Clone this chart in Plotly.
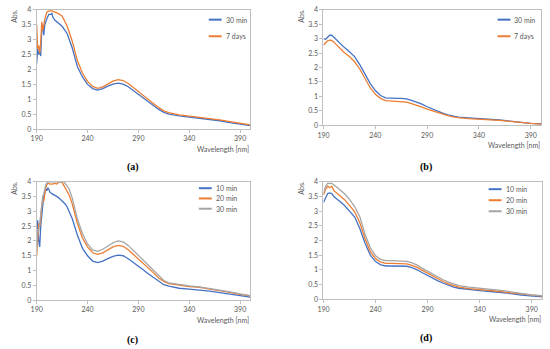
import plotly.graph_objects as go

# ---------------- data ----------------
wl_a = [190,191,192,193,194,195,196,197,198,199,200,202,204,205,206,208,210,215,220,225,230,235,240,245,250,255,260,265,270,275,280,285,290,295,300,305,310,315,320,330,340,350,360,370,380,390,400]
a_30min = [2.2,2.7,2.5,2.6,2.45,3.3,3.5,3.15,3.5,3.65,3.7,3.85,3.85,3.88,3.75,3.65,3.6,3.45,3.2,2.72,2.1,1.75,1.5,1.36,1.31,1.36,1.44,1.51,1.54,1.51,1.42,1.29,1.16,1.04,0.91,0.79,0.66,0.56,0.5,0.44,0.4,0.37,0.33,0.28,0.22,0.16,0.12]
a_7days = [3.5,2.7,2.8,2.55,2.9,3.6,3.3,3.55,3.7,3.8,3.92,3.97,3.98,3.97,3.95,3.93,3.9,3.8,3.45,2.95,2.3,1.88,1.6,1.43,1.37,1.42,1.52,1.61,1.66,1.63,1.53,1.39,1.25,1.12,0.98,0.85,0.72,0.61,0.55,0.48,0.44,0.41,0.36,0.31,0.25,0.19,0.14]

wl_b = [190,192,194,196,198,200,205,210,215,220,225,230,235,240,245,250,255,260,265,270,275,280,285,290,295,300,305,310,315,320,330,340,350,360,370,380,390,400]
b_30min = [3.0,2.98,3.05,3.12,3.12,3.05,2.85,2.7,2.55,2.38,2.1,1.75,1.45,1.2,1.03,0.95,0.93,0.93,0.93,0.91,0.86,0.8,0.73,0.64,0.56,0.49,0.42,0.36,0.31,0.28,0.25,0.23,0.21,0.18,0.14,0.09,0.06,0.05]
b_7days = [2.78,2.85,2.93,2.95,2.94,2.88,2.7,2.52,2.38,2.2,1.95,1.6,1.3,1.07,0.93,0.85,0.84,0.84,0.83,0.8,0.75,0.7,0.63,0.56,0.5,0.44,0.38,0.33,0.29,0.26,0.23,0.21,0.2,0.17,0.13,0.09,0.06,0.04]

wl_c = [190,191,192,193,194,195,196,197,198,199,200,201,202,203,205,208,210,212,215,217,218,220,222,225,230,235,240,245,250,255,260,265,270,275,280,285,290,295,300,305,310,315,320,330,340,350,360,370,380,390,400]
c_10min = [2.0,2.7,2.0,1.8,2.5,3.0,3.2,3.5,3.6,3.75,3.7,3.8,3.75,3.65,3.6,3.55,3.5,3.45,3.35,3.3,3.25,3.15,3.0,2.75,2.2,1.75,1.5,1.32,1.27,1.32,1.4,1.48,1.52,1.5,1.4,1.28,1.15,1.02,0.88,0.75,0.62,0.52,0.47,0.4,0.37,0.34,0.3,0.25,0.2,0.15,0.1]
c_20min = [1.5,2.0,2.6,2.5,2.7,3.2,3.4,3.35,3.7,3.8,3.9,3.95,3.95,3.92,3.92,3.95,3.93,4.0,3.98,3.85,3.8,3.7,3.55,3.25,2.6,2.1,1.8,1.6,1.55,1.6,1.7,1.8,1.85,1.82,1.7,1.55,1.4,1.25,1.08,0.92,0.75,0.63,0.56,0.5,0.46,0.43,0.38,0.32,0.26,0.19,0.14]
c_30min = [1.7,2.4,2.3,2.6,2.8,3.3,3.5,3.6,3.8,3.9,3.95,4.0,4.0,4.0,4.0,4.0,4.0,4.0,4.0,4.0,3.95,3.85,3.75,3.45,2.75,2.25,1.9,1.7,1.65,1.72,1.83,1.94,2.0,1.97,1.85,1.68,1.5,1.33,1.15,0.97,0.8,0.66,0.58,0.52,0.48,0.45,0.4,0.34,0.28,0.21,0.15]

wl_d = [190,192,194,196,198,200,205,210,215,220,225,230,235,240,245,250,255,260,265,270,275,280,285,290,295,300,305,310,315,320,330,340,350,360,370,380,390,400]
d_10min = [3.3,3.45,3.6,3.62,3.6,3.5,3.35,3.2,3.0,2.8,2.4,1.9,1.5,1.28,1.17,1.13,1.13,1.13,1.13,1.12,1.07,1.0,0.9,0.8,0.71,0.62,0.54,0.47,0.41,0.37,0.32,0.29,0.26,0.23,0.19,0.14,0.1,0.08]
d_20min = [3.55,3.75,3.85,3.8,3.85,3.7,3.55,3.4,3.2,2.98,2.6,2.05,1.62,1.38,1.26,1.22,1.22,1.22,1.22,1.2,1.15,1.08,0.98,0.88,0.78,0.69,0.6,0.52,0.46,0.41,0.36,0.33,0.3,0.26,0.21,0.17,0.12,0.1]
d_30min = [3.6,3.85,3.95,3.95,3.95,3.9,3.75,3.6,3.4,3.15,2.8,2.2,1.75,1.48,1.35,1.31,1.31,1.31,1.31,1.29,1.24,1.16,1.05,0.95,0.85,0.75,0.66,0.58,0.51,0.46,0.41,0.38,0.35,0.3,0.25,0.2,0.14,0.12]

x_ticks = [190, 240, 290, 340, 390]
y_ticks = [0, 0.5, 1, 1.5, 2, 2.5, 3, 3.5, 4]
y_ticklabels = ["0", "0.5", "1", "1.5", "2", "2.5", "3", "3.5", "4"]

BLUE = "#4472C4"
ORANGE = "#ED7D31"
GRAY = "#A5A5A5"
W, H = 550, 349
FONT = "Lato"

# panel geometry in pixels: left, right, top, bottom
panels = {
    "a": dict(px=(31, 247), py=(5, 127), xa="x", ya="y"),
    "b": dict(px=(321, 541), py=(5, 123), xa="x2", ya="y2"),
    "c": dict(px=(31, 247), py=(181, 302), xa="x3", ya="y3"),
    "d": dict(px=(321, 542), py=(181, 301), xa="x4", ya="y4"),
}

series = {
    "a": (wl_a, [("30 min", a_30min, BLUE), ("7 days", a_7days, ORANGE)]),
    "b": (wl_b, [("30 min", b_30min, BLUE), ("7 days", b_7days, ORANGE)]),
    "c": (wl_c, [("10 min", c_10min, BLUE), ("20 min", c_20min, ORANGE), ("30 min", c_30min, GRAY)]),
    "d": (wl_d, [("10 min", d_10min, BLUE), ("20 min", d_20min, ORANGE), ("30 min", d_30min, GRAY)]),
}

# legend positions (pixel): line start x, first row y, row spacing
legend_pos = {
    "a": (205, 15, 17),
    "b": (497, 15, 17),
    "c": (195, 187.5, 10.5),
    "d": (488, 188.5, 11.3),
}
label_pos = {"a": (128, 166), "b": (425, 166), "c": (128, 343), "d": (425, 341)}

fig = go.Figure()
layout = dict(
    width=W, height=H, margin=dict(l=0, r=0, t=0, b=0),
    paper_bgcolor="white", plot_bgcolor="white", showlegend=False,
    font=dict(family=FONT, size=7, color="#595959"),
)
shapes, annos = [], []

def fx(p):
    return p / W

def fy(p):
    return 1 - p / H

for i, key in enumerate(["a", "b", "c", "d"]):
    P = panels[key]
    suffix = "" if i == 0 else str(i + 1)
    xd = [fx(P["px"][0]), fx(P["px"][1])]
    yd = [fy(P["py"][1]), fy(P["py"][0])]
    layout["xaxis" + suffix] = dict(
        domain=xd, range=[190, 400], tickvals=x_ticks, showgrid=False, zeroline=False,
        showline=True, mirror=True, linecolor="#BFBFBF", linewidth=1,
        ticks="outside", ticklen=3, tickcolor="#BFBFBF",
        tickfont=dict(size=7, color="#595959", family=FONT),
        anchor="y" + suffix, fixedrange=True,
    )
    layout["yaxis" + suffix] = dict(
        domain=yd, range=[0, 4], tickvals=y_ticks, ticktext=y_ticklabels, showgrid=False, zeroline=False,
        showline=True, mirror=True, linecolor="#BFBFBF", linewidth=1,
        ticks="outside", ticklen=3, tickcolor="#BFBFBF",
        tickfont=dict(size=7, color="#595959", family=FONT),
        anchor="x" + suffix, fixedrange=True,
    )
    wl, ser = series[key]
    for name, vals, col in ser:
        fig.add_trace(go.Scatter(x=wl, y=vals, mode="lines", name=name,
                                 line=dict(color=col, width=1.3),
                                 xaxis=P["xa"], yaxis=P["ya"]))
    # legend
    lx, ly, dy = legend_pos[key]
    for j, (name, vals, col) in enumerate(ser):
        yy = ly + j * dy
        shapes.append(dict(type="line", xref="paper", yref="paper",
                           x0=fx(lx), x1=fx(lx + 13), y0=fy(yy), y1=fy(yy),
                           line=dict(color=col, width=2)))
        annos.append(dict(xref="paper", yref="paper", x=fx(lx + 15), y=fy(yy),
                          text=name, showarrow=False, xanchor="left", yanchor="middle",
                          font=dict(size=7, color="#595959", family=FONT)))
    # Abs. label
    annos.append(dict(xref="paper", yref="paper", x=fx(P["px"][0] - 23), y=fy(P["py"][0] - 3),
                      text="Abs.", textangle=-90, showarrow=False,
                      xanchor="center", yanchor="top",
                      font=dict(size=7, color="#595959", family=FONT)))
    # Wavelength label
    annos.append(dict(xref="paper", yref="paper", x=fx(P["px"][1] + 1), y=fy(P["py"][1] + 20),
                      text="Wavelength [nm]", showarrow=False,
                      xanchor="right", yanchor="middle",
                      font=dict(size=7, color="#595959", family=FONT)))
    # subfigure label
    sx, sy = label_pos[key]
    annos.append(dict(xref="paper", yref="paper", x=fx(sx), y=fy(sy),
                      text="<b>(" + key + ")</b>", showarrow=False,
                      xanchor="center", yanchor="middle",
                      font=dict(size=10, color="black", family="Liberation Serif")))

layout["shapes"] = shapes
layout["annotations"] = annos
fig.update_layout(**layout)
fig.write_html("out.html", config={"displayModeBar": False},
               post_script="document.body.style.margin='0';document.body.style.overflow='hidden';")
